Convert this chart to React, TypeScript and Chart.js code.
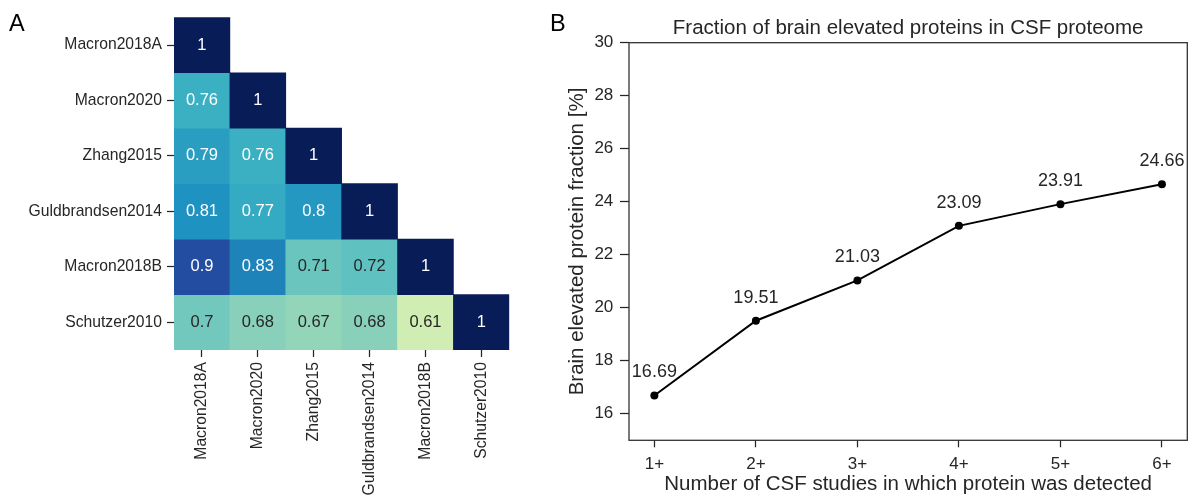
import React, { useEffect, useRef } from 'react';
import { Chart, registerables } from 'chart.js';

Chart.register(...registerables);

// ---------- Data ----------
const studies = ['Macron2018A', 'Macron2020', 'Zhang2015', 'Guldbrandsen2014', 'Macron2018B', 'Schutzer2010'];

const corrMacron2018A = [1];
const corrMacron2020 = [0.76, 1];
const corrZhang2015 = [0.79, 0.76, 1];
const corrGuldbrandsen2014 = [0.81, 0.77, 0.8, 1];
const corrMacron2018B = [0.9, 0.83, 0.71, 0.72, 1];
const corrSchutzer2010 = [0.7, 0.68, 0.67, 0.68, 0.61, 1];
const correlationRows = [
  corrMacron2018A,
  corrMacron2020,
  corrZhang2015,
  corrGuldbrandsen2014,
  corrMacron2018B,
  corrSchutzer2010,
];

const studyThreshold = [1, 2, 3, 4, 5, 6];
const thresholdLabels = ['1+', '2+', '3+', '4+', '5+', '6+'];
const brainFraction = [16.69, 19.51, 21.03, 23.09, 23.91, 24.66];
const fractionTicks = [16, 18, 20, 22, 24, 26, 28, 30];

// ---------- Styles ----------
const FONT = "'Liberation Sans', Arial, Helvetica, sans-serif";
const TEXT = '#262626';
const SPINE = '#333333';

const YLGNBU = ['#ffffd9', '#edf8b1', '#c7e9b4', '#7fcdbb', '#41b6c4', '#1d91c0', '#225ea8', '#253494', '#081d58'];
const VMIN = 0.5;
const VMAX = 1;

function hexToRgb(h: string): number[] {
  const n = parseInt(h.slice(1), 16);
  return [(n >> 16) & 255, (n >> 8) & 255, n & 255];
}
const stops = YLGNBU.map(hexToRgb);

function cmap(v: number): number[] {
  let t = (v - VMIN) / (VMAX - VMIN);
  t = Math.max(0, Math.min(1, t));
  const pos = t * (stops.length - 1);
  const i = Math.min(Math.floor(pos), stops.length - 2);
  const f = pos - i;
  return stops[i].map((c, k) => c + (stops[i + 1][k] - c) * f);
}
function rgbStr(c: number[]): string {
  return `rgb(${Math.round(c[0])},${Math.round(c[1])},${Math.round(c[2])})`;
}
function luminance(c: number[]): number {
  const lin = c.map((x) => {
    const s = x / 255;
    return s <= 0.03928 ? s / 12.92 : Math.pow((s + 0.055) / 1.055, 2.4);
  });
  return 0.2126 * lin[0] + 0.7152 * lin[1] + 0.0722 * lin[2];
}

// ---------- Plugins ----------
const cellLabelPlugin = {
  id: 'cellLabels',
  afterDatasetsDraw(chart: any) {
    const ctx = chart.ctx;
    ctx.save();
    ctx.font = `16.5px ${FONT}`;
    ctx.textAlign = 'center';
    ctx.textBaseline = 'middle';
    correlationRows.forEach((row, r) => {
      const meta = chart.getDatasetMeta(r);
      row.forEach((v, c) => {
        const el = meta.data[c];
        if (!el) return;
        const p = el.getCenterPoint();
        const lum = luminance(cmap(v));
        ctx.fillStyle = lum > 0.408 ? TEXT : '#ffffff';
        ctx.fillText(String(v), p.x, p.y);
      });
    });
    ctx.restore();
  },
};

const boxPlugin = {
  id: 'boxFrame',
  beforeDatasetsDraw(chart: any) {
    const { ctx, chartArea } = chart;
    ctx.save();
    ctx.strokeStyle = SPINE;
    ctx.lineWidth = 1.3;
    ctx.strokeRect(chartArea.left, chartArea.top, chartArea.right - chartArea.left, chartArea.bottom - chartArea.top);
    ctx.restore();
  },
};

const pointLabelPlugin = {
  id: 'pointLabels',
  afterDatasetsDraw(chart: any) {
    const ctx = chart.ctx;
    const meta = chart.getDatasetMeta(0);
    ctx.save();
    ctx.font = `18px ${FONT}`;
    ctx.fillStyle = TEXT;
    ctx.textAlign = 'center';
    ctx.textBaseline = 'middle';
    meta.data.forEach((pt: any, i: number) => {
      ctx.fillText(brainFraction[i].toFixed(2), pt.x, pt.y - 23);
    });
    ctx.restore();
  },
};

function HeatmapPanel() {
  const ref = useRef<HTMLCanvasElement>(null);
  useEffect(() => {
    if (!ref.current) return;
    const datasets = correlationRows.map((row, r) => ({
      label: studies[r],
      data: studies.map((_, c) => (c < row.length ? [r - 0.5, r + 0.5] : null)),
      backgroundColor: studies.map((_, c) => (c < row.length ? rgbStr(cmap(row[c])) : 'rgba(0,0,0,0)')),
      borderWidth: 0,
      borderSkipped: false,
      grouped: false,
      barPercentage: 1,
      categoryPercentage: 1,
    }));
    const chart = new Chart(ref.current, {
      type: 'bar',
      data: { labels: studies, datasets: datasets as any },
      options: {
        responsive: false,
        animation: false,
        devicePixelRatio: 1,
        layout: { padding: { left: 0, top: 17.3, right: 50.7, bottom: 0 } },
        plugins: { legend: { display: false }, tooltip: { enabled: false }, title: { display: false } },
        scales: {
          x: {
            type: 'category',
            offset: true,
            grid: { display: true, drawOnChartArea: false, drawTicks: true, tickLength: 7, tickWidth: 1.25, tickColor: TEXT, offset: false },
            border: { display: false },
            ticks: { autoSkip: false, minRotation: 90, maxRotation: 90, padding: 5, color: TEXT, font: { family: FONT, size: 15.7 } },
            afterFit: (s: any) => { s.height = 147; },
          },
          y: {
            type: 'linear',
            min: -0.5,
            max: 5.5,
            reverse: true,
            grid: { display: true, drawOnChartArea: false, drawTicks: true, tickLength: 7, tickWidth: 1.25, tickColor: TEXT },
            border: { display: false },
            afterBuildTicks: (s: any) => { s.ticks = studies.map((_, i) => ({ value: i })); },
            ticks: { autoSkip: false, padding: 5, color: TEXT, font: { family: FONT, size: 15.7 }, callback: (v: any) => studies[v] },
            afterFit: (s: any) => { s.width = 174; },
          },
        },
      } as any,
      plugins: [cellLabelPlugin],
    });
    return () => chart.destroy();
  }, []);
  return <canvas ref={ref} width={560} height={497} style={{ position: 'absolute', left: 0, top: 0, width: 560, height: 497, display: 'block' }} />;
}

function LinePanel() {
  const ref = useRef<HTMLCanvasElement>(null);
  useEffect(() => {
    if (!ref.current) return;
    const chart = new Chart(ref.current, {
      type: 'line',
      data: {
        datasets: [
          {
            data: brainFraction.map((v, i) => ({ x: studyThreshold[i], y: v })),
            borderColor: '#000000',
            backgroundColor: '#000000',
            borderWidth: 2,
            pointRadius: 4,
            pointBorderWidth: 0,
            pointBackgroundColor: '#000000',
            tension: 0,
            fill: false,
          },
        ],
      },
      options: {
        responsive: false,
        animation: false,
        devicePixelRatio: 1,
        layout: { padding: { left: 0, top: 0, right: 5.7, bottom: 0 } },
        plugins: {
          legend: { display: false },
          tooltip: { enabled: false },
          title: {
            display: true,
            fullSize: false,
            text: 'Fraction of brain elevated proteins in CSF proteome',
            color: TEXT,
            font: { family: FONT, size: 20.5, weight: 'normal' },
            padding: { top: 15.7, bottom: 2.4 },
          },
        },
        scales: {
          x: {
            type: 'linear',
            min: 0.75,
            max: 6.25,
            afterBuildTicks: (s: any) => { s.ticks = studyThreshold.map((v) => ({ value: v })); },
            ticks: { padding: 7, color: TEXT, font: { family: FONT, size: 17 }, callback: (v: any) => thresholdLabels[studyThreshold.indexOf(v)] },
            grid: { display: true, drawOnChartArea: false, drawTicks: true, tickLength: 7, tickWidth: 1.25, tickColor: TEXT },
            border: { display: false },
            title: {
              display: true,
              text: 'Number of CSF studies in which protein was detected',
              color: TEXT,
              font: { family: FONT, size: 20.5 },
              padding: { top: 0, bottom: 0 },
            },
            afterFit: (s: any) => { s.height = 56.7; },
          },
          y: {
            type: 'linear',
            min: 15,
            max: 30,
            afterBuildTicks: (s: any) => { s.ticks = fractionTicks.map((v) => ({ value: v })); },
            ticks: { padding: 6.7, color: TEXT, font: { family: FONT, size: 17 } },
            grid: { display: true, drawOnChartArea: false, drawTicks: true, tickLength: 9, tickWidth: 1.25, tickColor: TEXT },
            border: { display: false },
            title: {
              display: true,
              text: 'Brain elevated protein fraction [%]',
              color: TEXT,
              font: { family: FONT, size: 20.5 },
              padding: { top: 5, bottom: 0 },
            },
            afterFit: (s: any) => { s.width = 69; },
          },
        },
      } as any,
      plugins: [boxPlugin, pointLabelPlugin],
    });
    return () => chart.destroy();
  }, []);
  return <canvas ref={ref} width={633} height={497} style={{ position: 'absolute', left: 560, top: 0, width: 633, height: 497, display: 'block' }} />;
}

export default function App() {
  const letter: React.CSSProperties = {
    position: 'absolute',
    fontFamily: FONT,
    fontSize: 23.5,
    lineHeight: '24px',
    color: '#000',
  };
  return (
    <div style={{ position: 'absolute', left: 0, top: 0, width: 1193, height: 497, background: '#fff', overflow: 'hidden' }}>
      <HeatmapPanel />
      <LinePanel />
      <div style={{ ...letter, left: 9, top: 11 }}>A</div>
      <div style={{ ...letter, left: 550, top: 11 }}>B</div>
    </div>
  );
}
